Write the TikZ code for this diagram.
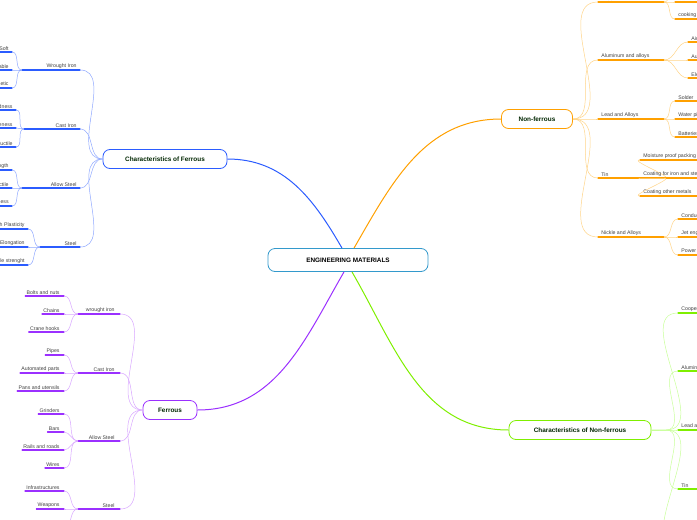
\documentclass[tikz,border=0pt]{standalone}
\usepackage{fontspec}
\setmainfont{Liberation Sans}
\usetikzlibrary{positioning}
\definecolor{fblue}{HTML}{2B5CFF}
\definecolor{fbluel}{HTML}{8FA8FF}
\definecolor{nforange}{HTML}{FFA000}
\definecolor{nforangel}{HTML}{FFD488}
\definecolor{fpurple}{HTML}{9B30FF}
\definecolor{fpurplel}{HTML}{D8A6FF}
\definecolor{nfgreen}{HTML}{7FEF00}
\definecolor{nfgreenl}{HTML}{C8FF99}
\definecolor{rootc}{HTML}{3399CC}
\tikzset{
  txt/.style={font=\fontsize{5.2}{6}\selectfont, text=black!75, inner sep=1.2pt},
  topic/.style={draw, line width=0.8pt, rounded corners=7pt, fill=white, minimum height=19pt,
    inner xsep=10pt, font=\fontsize{6.4}{7}\selectfont\bfseries, text=black!70!green!50!black},
  ul/.style={line width=1.1pt, line cap=round},
  link/.style={line width=0.5pt},
}
\begin{document}
\begin{tikzpicture}[x=1pt,y=-1pt]
  \useasboundingbox (0,0) rectangle (697,520);
  \clip (0,0) rectangle (697,520);
  % main branches
  \node[topic,draw=rootc,minimum width=160pt,minimum height=23pt,text=black] (root) at (348,260) {ENGINEERING MATERIALS};
  \node[topic,draw=fblue,minimum width=124pt] (cf) at (165,159) {Characteristics of Ferrous};
  \node[topic,draw=nforange,minimum width=71pt] (nf) at (537,119) {Non-ferrous};
  \node[topic,draw=fpurple,minimum width=54pt] (fe) at (170,410) {Ferrous};
  \node[topic,draw=nfgreen,minimum width=142pt] (cnf) at (580,430) {Characteristics of Non-ferrous};
  \draw[fblue,line width=1pt] (root.north) ++(-6,0) coordinate (r1) to[out=120,in=0] (cf.east);
  \draw[nforange,line width=1pt] (root.north) ++(6,0) coordinate (r2) to[out=60,in=180] (nf.west);
  \draw[fpurple,line width=1pt] (root.south) ++(-4,0) coordinate (r3) to[out=-120,in=0] (fe.east);
  \draw[nfgreen,line width=1pt] (root.south) ++(4,0) coordinate (r4) to[out=-60,in=180] (cnf.west);

  % Characteristics of Ferrous
  \foreach \cat/\cy/\lx/\jx/\cx/\leaves in {
      Wrought Iron/70/10/22/22/{Soft/52,Malleable/70,Magnetic/88},
      Cast Iron/129/14/24/24/{Hardness/110,Brittleness/128,Not ductile/147},
      Allow Steel/188/10/22/22/{High strength/170,Ductile/188,Toughness/206},
      Steel/247/26/40/40/{High Plasticity/229,Elongation/247,Tensile strenght/265}} {
    \coordinate (cj) at (\jx,\cy);
    \node[txt,anchor=south east] (cn) at (78,\cy) {\cat};
    \draw[fblue,ul] (\cx,\cy) -- (80,\cy);
    \draw[fbluel,link] (80,\cy) to[out=0,in=180] (cf.west);
    \foreach \leaf/\ly in \leaves {
      \node[txt,anchor=south east] (ln) at (\lx,\ly) {\leaf};
      \draw[fblue,ul] (ln.south west) -- (\lx+2,\ly);
      \draw[fbluel,link] (\lx+2,\ly) to[out=0,in=180] (cj);
    }
  }

  % Ferrous
  \foreach \cat/\cy/\leaves in {
      wrought iron/314/{Bolts and nuts/296,Chains/314,Crane hooks/332},
      Cast Iron/373/{Pipes/355,Automated parts/373,Pans and utensils/391},
      Allow Steel/441/{Grinders/414,Bars/432,Rails and roads/450,Wires/468},
      Steel/509/{Infrastructures/491,Weapons/509,Forging/527}} {
    \coordinate (cj) at (78,\cy);
    \node[txt,anchor=south east] (cn) at (116,\cy) {\cat};
    \draw[fpurple,ul] (cj) -- (120,\cy);
    \draw[fpurplel,link] (120,\cy) to[out=0,in=180] (fe.west);
    \foreach \leaf/\ly in \leaves {
      \node[txt,anchor=south east] (ln) at (61,\ly) {\leaf};
      \draw[fpurple,ul] (ln.south west) -- (64,\ly);
      \draw[fpurplel,link] (64,\ly) to[out=0,in=180] (cj);
    }
  }

  % Non-ferrous
  \foreach \cat/\cy/\lx/\leaves in {
      Copper/2/675/{Electrical wires/-16,Utensils/2,cooking vessels/19},
      Aluminum and alloys/60/688/{Aircraft/42,Automobile/60,Electrical/78},
      Lead and Alloys/119/675/{Solder/101,Water pipes/119,Batteries/137},
      Tin/178/640/{Moisture proof packing/160,Coating for iron and steel/178,Coating other metals/196},
      Nickle and Alloys/237/678/{Conductors/219,Jet engines/237,Power plants/255}} {
    \node[txt,anchor=south west] (cn) at (600,\cy) {\cat};
    \draw[nforange,ul] (598,\cy) -- (664,\cy);
    \draw[nforangel,link] (nf.east) to[out=0,in=180] (598,\cy);
    \foreach \leaf/\ly in \leaves {
      \node[txt,anchor=south west] (ln) at (\lx+2,\ly) {\leaf};
      \draw[nforange,ul] (\lx,\ly) -- (710,\ly);
      \draw[nforangel,link] (664,\cy) to[out=0,in=180] (\lx,\ly);
    }
  }

  % Characteristics of Non-ferrous
  \foreach \cat/\cy in {Cooper/313,Aluminum/371,Lead and alloys/430,Tin/489,Nickle/548} {
    \node[txt,anchor=south west] (cn) at (680,\cy) {\cat};
    \draw[nfgreen,ul] (678,\cy) -- (710,\cy);
    \draw[nfgreenl,link] (cnf.east) -- (666,430) to[out=0,in=180] (678,\cy);
  }
\end{tikzpicture}
\end{document}
